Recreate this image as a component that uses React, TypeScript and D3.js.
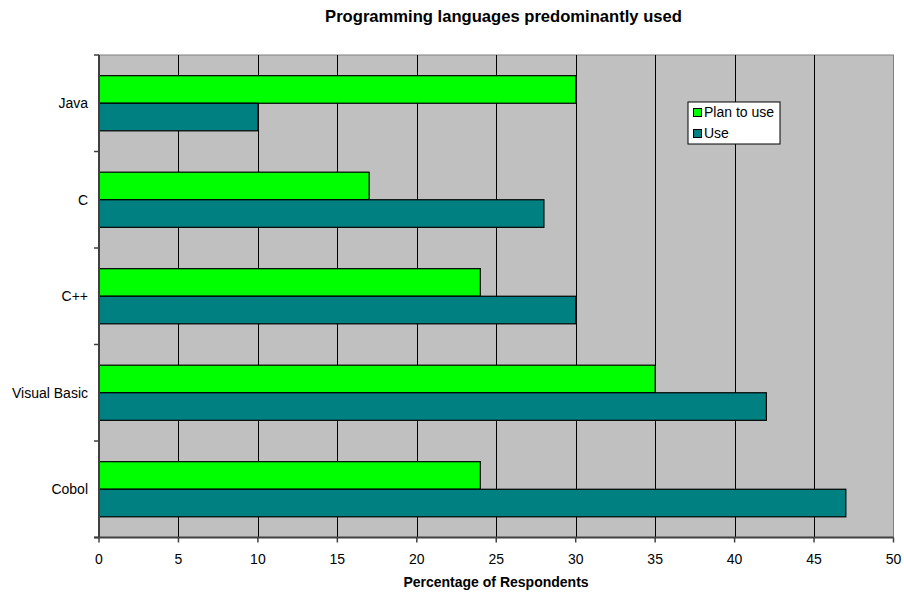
import React from "react";
import * as d3 from "d3";

const categories = ["Java", "C", "C++", "Visual Basic", "Cobol"];
const seriesNames = ["Plan to use", "Use"];
const planToUse = [30, 17, 24, 35, 24];
const use = [10, 28, 30, 42, 47];
const xTicks = [0, 5, 10, 15, 20, 25, 30, 35, 40, 45, 50];
const colors = ["#00FF00", "#008080"];

export default function App() {
  const W = 904, H = 592;
  const left = 99, right = 893.5, top = 55, bottom = 537.5;
  const x = d3.scaleLinear().domain([0, 50]).range([left, right]);
  const y = d3.scaleBand().domain(categories).range([top, bottom]).paddingInner(0).paddingOuter(0);
  const bw = y.bandwidth();
  const barH = bw / (2 + 1.5);
  const font = "Liberation Sans, Arial, sans-serif";
  const series = [planToUse, use];

  return (
    <svg width={W} height={H} style={{ position: "absolute", left: 0, top: 0 }} fontFamily={font}>
      <rect x={0} y={0} width={W} height={H} fill="#fff" />
      <text x={503.5} y={22} textAnchor="middle" fontSize={16.6} fontWeight="bold">
        Programming languages predominantly used
      </text>
      <rect x={left} y={top} width={right - left} height={bottom - top} fill="#C0C0C0" stroke="#808080" strokeWidth={1} />
      {xTicks.slice(1, -1).map((t) => (
        <line key={t} x1={Math.round(x(t)) + 0.5} x2={Math.round(x(t)) + 0.5} y1={top} y2={bottom} stroke="#000" strokeWidth={1} />
      ))}
      {categories.map((c, i) =>
        series.map((s, j) => {
          const y0 = (y(c) as number) + (bw - 2 * barH) / 2 + j * barH;
          return (
            <rect key={c + j} x={x(0)} y={y0} width={x(s[i]) - x(0)} height={barH} fill={colors[j]} stroke="#000" strokeWidth={1.2} />
          );
        })
      )}
      <line x1={left} x2={left} y1={top} y2={bottom} stroke="#404040" strokeWidth={2} />
      <line x1={left - 5} x2={right} y1={bottom} y2={bottom} stroke="#404040" strokeWidth={2} />
      {d3.range(categories.length + 1).map((i) => {
        const yy = top + i * bw;
        return <line key={"yt" + i} x1={left - 5} x2={left} y1={yy} y2={yy} stroke="#404040" strokeWidth={1.5} />;
      })}
      {xTicks.map((t) => (
        <g key={"xt" + t}>
          <line x1={x(t)} x2={x(t)} y1={bottom} y2={bottom + 5} stroke="#404040" strokeWidth={1.5} />
          <text x={x(t)} y={bottom + 26} textAnchor="middle" fontSize={14}>{t}</text>
        </g>
      ))}
      {categories.map((c) => (
        <text key={"cl" + c} x={88} y={(y(c) as number) + bw / 2 + 5} textAnchor="end" fontSize={14}>{c}</text>
      ))}
      <text x={496} y={587} textAnchor="middle" fontSize={14} fontWeight="bold">Percentage of Respondents</text>
      <rect x={688} y={102} width={92} height={42} fill="#fff" stroke="#000" strokeWidth={1} />
      {seriesNames.map((n, j) => (
        <g key={"lg" + n}>
          <rect x={693.5} y={108.5 + j * 21} width={8} height={8} fill={colors[j]} stroke="#000" strokeWidth={1} />
          <text x={704} y={117 + j * 21} fontSize={14}>{n}</text>
        </g>
      ))}
    </svg>
  );
}
